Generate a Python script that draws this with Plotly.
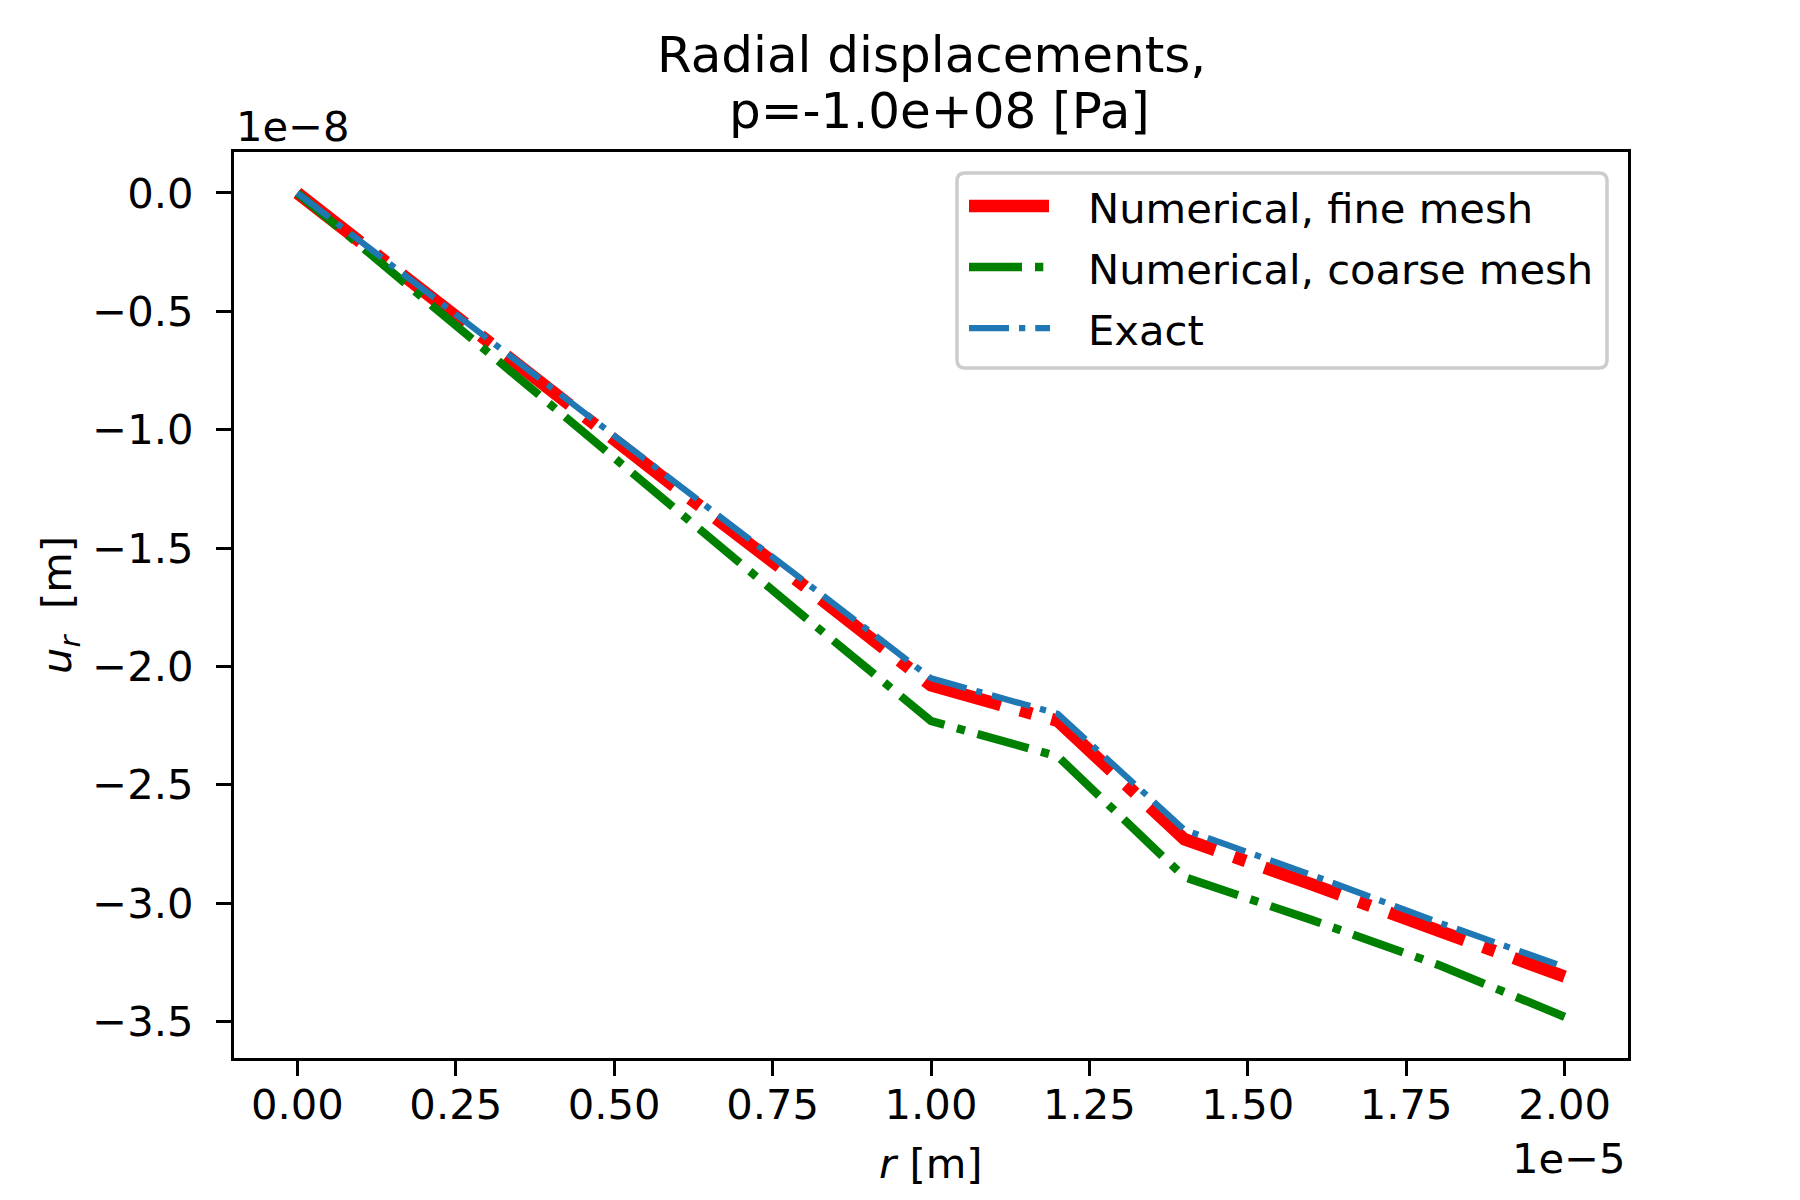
import plotly.graph_objects as go

# r in units of 1e-5 m, u_r in units of 1e-8 m
r_vals = [0.0, 0.2, 0.4, 0.6, 0.8, 1.0, 1.2, 1.4, 1.6, 1.8, 2.0]
u_fine = [0.0, -0.42, -0.83, -1.25, -1.66, -2.08, -2.23, -2.73, -2.92, -3.11, -3.31]
u_coarse = [0.0, -0.45, -0.89, -1.34, -1.79, -2.23, -2.38, -2.89, -3.07, -3.26, -3.48]
u_exact = [0.0, -0.41, -0.82, -1.23, -1.64, -2.05, -2.20, -2.69, -2.88, -3.08, -3.27]

series_names = ["Numerical, fine mesh", "Numerical, coarse mesh", "Exact"]
series_colors = ["#ff0000", "#008000", "#1f77b4"]
series_widths = [12.5, 8.3, 6.25]
series_dashes = ["80px,20px,12.5px,20px", "53px,13px,8.3px,13px", "40px,10px,6.25px,10px"]

W, H = 1800, 1200
L, R, T, B = 226, 1620, 144, 1050
FONT = "DejaVu Sans"
FS = 41.7


def px(x):
    return (x - L) / (R - L)


def py(y):
    return (B - y) / (B - T)


fig = go.Figure()
for u, name, col, lw, dash in zip([u_fine, u_coarse, u_exact], series_names,
                                  series_colors, series_widths, series_dashes):
    fig.add_trace(go.Scatter(x=r_vals, y=u, mode="lines", name=name,
                             line=dict(color=col, width=lw, dash=dash)))

axis_common = dict(
    showgrid=False, zeroline=False, showline=True, mirror=True,
    linecolor="black", linewidth=3.3, ticks="outside", ticklen=15,
    tickwidth=3.3, tickcolor="black",
    tickfont=dict(family=FONT, size=FS, color="black"),
)
fig.update_xaxes(range=[-0.1, 2.1], tick0=0, dtick=0.25, tickformat=".2f",
                 ticklabelstandoff=-7, **axis_common)
fig.update_yaxes(range=[-3.654, 0.173], tick0=0, dtick=0.5, tickformat=".1f",
                 ticklabelstandoff=14, **axis_common)

# legend drawn by hand so the samples look like matplotlib's
lx0, lx1, ly0, ly1, rad = 949, 1599, 165, 360, 8
rx, ry = rad / (R - L), rad / (B - T)
a, b, c, d = px(lx0), px(lx1), py(ly1), py(ly0)
box = (f"M {a + rx},{c} L {b - rx},{c} Q {b},{c} {b},{c + ry} "
       f"L {b},{d - ry} Q {b},{d} {b - rx},{d} L {a + rx},{d} "
       f"Q {a},{d} {a},{d - ry} L {a},{c + ry} Q {a},{c} {a + rx},{c} Z")
shapes = [dict(type="path", path=box, xref="paper", yref="paper",
               fillcolor="rgba(255,255,255,0.8)",
               line=dict(color="#cccccc", width=3.5))]
annotations = []
entry_y = [198, 259, 320]
for name, col, lw, dash, ey in zip(series_names, series_colors, series_widths,
                                   series_dashes, entry_y):
    shapes.append(dict(type="line", xref="paper", yref="paper",
                       x0=px(961), x1=px(1042), y0=py(ey), y1=py(ey),
                       line=dict(color=col, width=lw, dash=dash)))
    annotations.append(dict(text=name, xref="paper", yref="paper", x=px(1078),
                            y=py(ey + 2), xanchor="left", yanchor="middle",
                            showarrow=False,
                            font=dict(family=FONT, size=FS, color="black")))

txt = dict(xref="paper", yref="paper", showarrow=False)
annotations += [
    dict(text="Radial displacements,", x=px(923), y=py(47), xanchor="center",
         yanchor="middle", font=dict(family=FONT, size=50, color="black"), **txt),
    dict(text="\u00a0p=-1.0e+08 [Pa]", x=px(923), y=py(103), xanchor="center",
         yanchor="middle", font=dict(family=FONT, size=50, color="black"), **txt),
    dict(text="1e\u22128", x=px(226), y=py(119), xanchor="left", yanchor="middle",
         font=dict(family=FONT, size=FS, color="black"), **txt),
    dict(text="1e\u22125", x=px(1620), y=py(1150), xanchor="right", yanchor="middle",
         font=dict(family=FONT, size=FS, color="black"), **txt),
    dict(text="<i>r</i> [m]", x=px(923), y=py(1155), xanchor="center",
         yanchor="middle", font=dict(family=FONT, size=FS, color="black"), **txt),
    dict(text="<i>u<sub>r</sub></i>\u00a0\u00a0[m]", x=px(51), y=py(597),
         xanchor="center", yanchor="middle", textangle=-90,
         font=dict(family=FONT, size=FS, color="black"), **txt),
]

fig.update_layout(
    width=W, height=H, showlegend=False,
    margin=dict(l=L, r=W - R, t=T, b=H - B, pad=0),
    paper_bgcolor="white", plot_bgcolor="white",
    shapes=shapes, annotations=annotations,
)

fig.write_html("out.html")
